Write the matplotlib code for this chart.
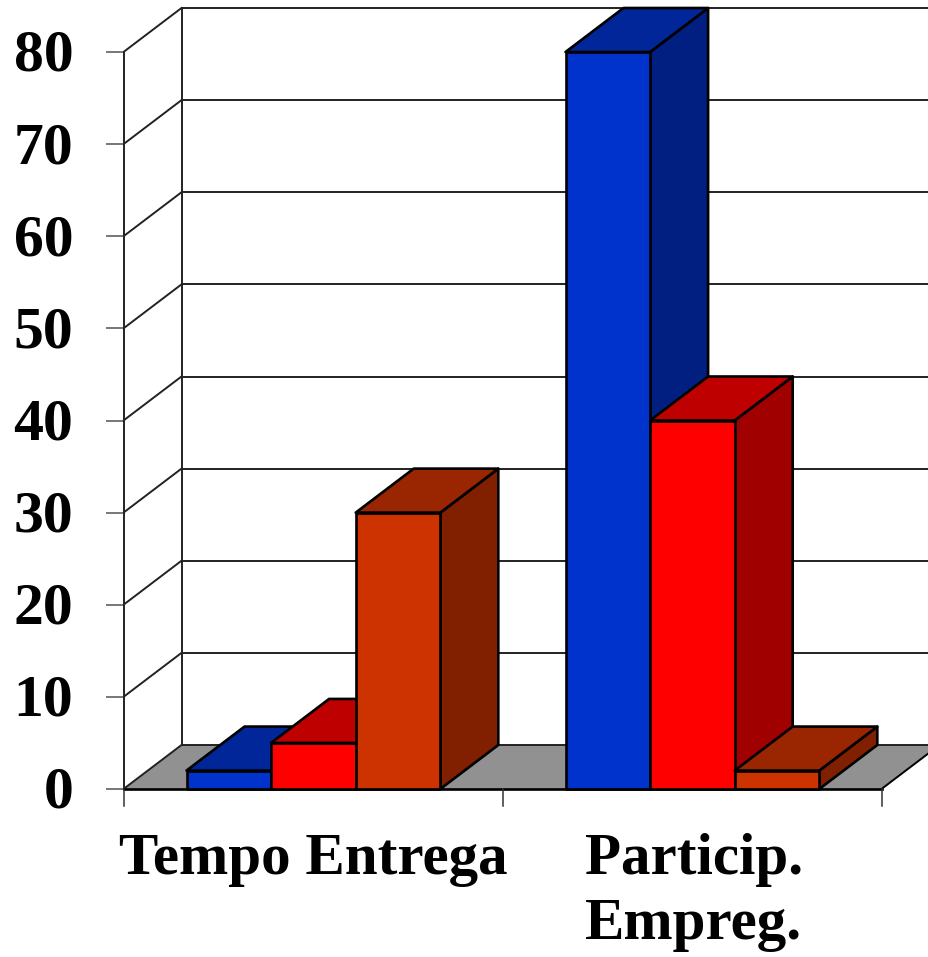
import matplotlib
matplotlib.use("Agg")
import matplotlib.pyplot as plt
from matplotlib.patches import Polygon

# values
categories = ["Tempo Entrega", "Particip.\nEmpreg."]
values_a = [2, 80]
values_b = [5, 40]
values_c = [30, 2]
y_ticks = [0, 10, 20, 30, 40, 50, 60, 70, 80]

# front, top, side colour of each series
colors_a = ["#0033CC", "#002699", "#001F80"]
colors_b = ["#FF0000", "#BF0000", "#A00000"]
colors_c = ["#CC3300", "#992600", "#802000"]

W, H = 929, 957
x0, y0 = 123.5, 789        # pixel of the chart origin
px_per_cat = 379.0
px_per_unit = 9.2125
dx = 58 / px_per_cat       # depth offset in data units
dy = 44 / px_per_unit
bar_w = 84.6 / px_per_cat
bar_start = 63 / px_per_cat

fig = plt.figure(figsize=(W / 100, H / 100), dpi=100, facecolor="white")
ax = fig.add_axes([0, 0, 1, 1])
ax.set_xlim(-x0 / px_per_cat, (W - x0) / px_per_cat)
ax.set_ylim(-(H - y0) / px_per_unit, y0 / px_per_unit)
ax.axis("off")

lw = 1.9
wall_lw = 1.4
right = 2
edge = "#000000"
wall = "#222222"

# floor
ax.add_patch(Polygon([(0, 0), (dx, dy), (right + dx, dy), (right, 0)],
                     facecolor="#919191", edgecolor="none", zorder=1))
ax.plot([right, right + dx], [0, dy], color=edge, lw=wall_lw, zorder=2)

# walls and grid
for t in y_ticks:
    ax.plot([0, dx], [t, t + dy], color=wall, lw=wall_lw, zorder=2)
    ax.plot([dx, right + dx], [t + dy, t + dy], color=wall, lw=wall_lw, zorder=2)
    ax.plot([-17 / px_per_cat, 0], [t, t], color="#777777", lw=wall_lw, zorder=2)
    ax.text(-50 / px_per_cat, t + 1.5 / px_per_unit, str(t), ha="right", va="center_baseline",
            family="Liberation Serif", weight="bold", fontsize=43, zorder=5)
ax.plot([0, 0], [0, 80], color=wall, lw=wall_lw, zorder=2)
ax.plot([dx, dx], [dy, 80 + dy], color=wall, lw=wall_lw, zorder=2)
ax.plot([0, right], [0, 0], color=edge, lw=lw, zorder=2)
for c in range(3):
    ax.plot([c, c], [0, -17 / px_per_unit], color="#333333", lw=1.1, zorder=2)


def bar3d(x, v, cols, z):
    ax.add_patch(Polygon([(x + bar_w, 0), (x + bar_w + dx, dy), (x + bar_w + dx, v + dy), (x + bar_w, v)],
                         facecolor=cols[2], edgecolor=edge, lw=lw, joinstyle="round", zorder=z))
    ax.add_patch(Polygon([(x, v), (x + dx, v + dy), (x + bar_w + dx, v + dy), (x + bar_w, v)],
                         facecolor=cols[1], edgecolor=edge, lw=lw, joinstyle="round", zorder=z))
    ax.add_patch(Polygon([(x, 0), (x, v), (x + bar_w, v), (x + bar_w, 0)],
                         facecolor=cols[0], edgecolor=edge, lw=lw, joinstyle="round", zorder=z))


z = 3
for i in range(len(categories)):
    for j, (vals, cols) in enumerate([(values_a, colors_a), (values_b, colors_b), (values_c, colors_c)]):
        bar3d(i + bar_start + j * bar_w, vals[i], cols, z)
        z += 0.01

# category labels
ax.text(0.5, -44 / px_per_unit, categories[0], ha="center", va="top", family="Liberation Serif",
        weight="bold", fontsize=42.5, linespacing=1.27)
ax.text(1.5 + 2 / px_per_cat, -44 / px_per_unit, categories[1], ha="center", va="top",
        family="Liberation Serif", weight="bold", fontsize=42.5, linespacing=1.27)

fig.savefig("out.png", dpi=100)
